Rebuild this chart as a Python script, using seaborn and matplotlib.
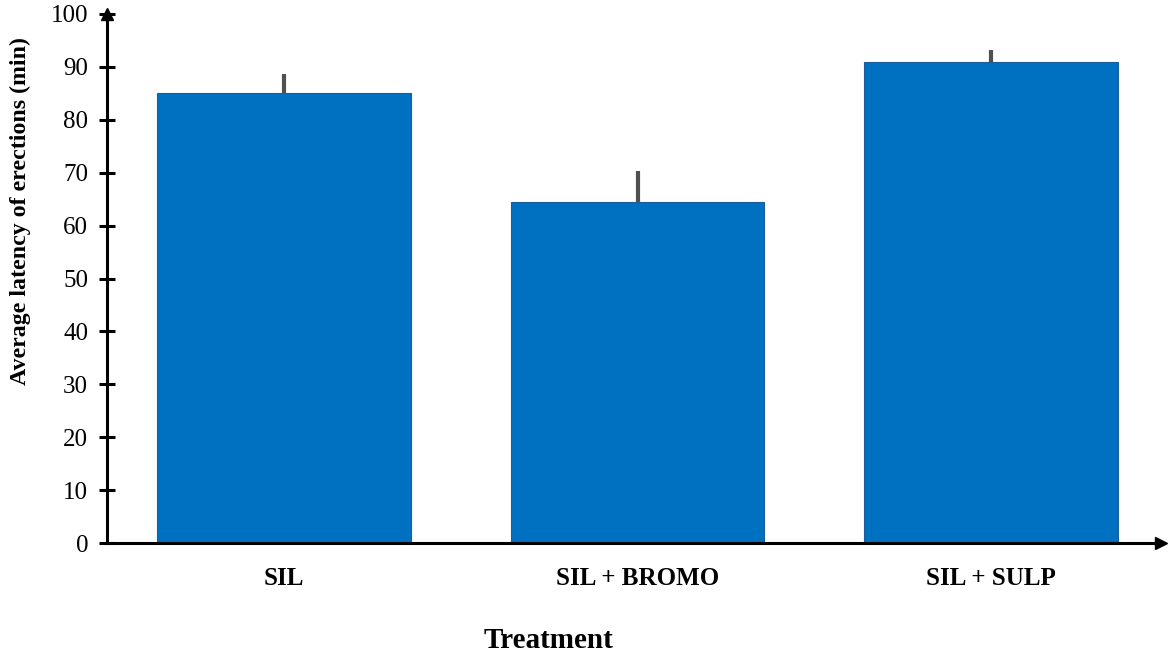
import matplotlib
matplotlib.use("Agg")
import matplotlib.pyplot as plt
import seaborn as sns
import numpy as np
import pandas as pd

categories = ["SIL", "SIL + BROMO", "SIL + SULP"]
means = [85.1, 64.5, 90.9]
errors = [3.6, 5.9, 2.3]
yticks = list(range(0, 101, 10))

sns.set_theme(style="white")
plt.rcParams["font.family"] = ["Liberation Serif", "DejaVu Serif"]
plt.rcParams["text.color"] = "black"
plt.rcParams["axes.labelcolor"] = "black"
plt.rcParams["xtick.color"] = "black"
plt.rcParams["ytick.color"] = "black"

df = pd.DataFrame({"Treatment": categories, "Latency": means})

fig = plt.figure(figsize=(11.71, 6.57), dpi=100)
ax = fig.add_axes([107/1171, 1-543/657, (1161-107)/1171, (543-14)/657])

sns.barplot(data=df, x="Treatment", y="Latency", ax=ax, color="#0070C0",
            saturation=1, width=0.717, edgecolor="#1d5e9a", linewidth=0.8,
            errorbar=None)
ax.errorbar(np.arange(len(categories)), means, yerr=[np.zeros(len(errors)), errors],
            fmt="none", ecolor="#505050", elinewidth=3, capsize=0, zorder=3)

ax.set_xlim(-0.5, 2.48)
ax.set_ylim(0, 100)
ax.set_yticks(yticks)
ax.set_yticklabels([str(t) for t in yticks], fontsize=18)

for s in ["top", "right"]:
    ax.spines[s].set_visible(False)
for s in ["left", "bottom"]:
    ax.spines[s].set_linewidth(2.2)
    ax.spines[s].set_color("black")
    ax.spines[s].set_zorder(4)

ax.tick_params(axis="y", direction="inout", length=11, width=2.2, color="black",
               pad=8, left=True, labelcolor="black")
ax.tick_params(axis="x", length=0, pad=17, labelcolor="black")
for lbl in ax.get_xticklabels():
    lbl.set_fontsize(18)
    lbl.set_fontweight("bold")

# axis arrows
ax.plot(1, 0, marker=">", color="black", markersize=9,
        transform=ax.get_yaxis_transform(), clip_on=False, zorder=5)
ax.plot(0, 1, marker="^", color="black", markersize=9,
        transform=ax.transAxes, clip_on=False, zorder=5)

ax.set_xlabel("Treatment", fontsize=21, fontweight="bold", color="black")
ax.xaxis.set_label_coords((548-107)/1054, -0.158)
ax.set_ylabel("Average latency of erections (min)", fontsize=17.2,
              fontweight="bold", color="black")
ax.yaxis.set_label_coords(-0.072, (543-211)/529)

fig.savefig("out.png", dpi=100)
